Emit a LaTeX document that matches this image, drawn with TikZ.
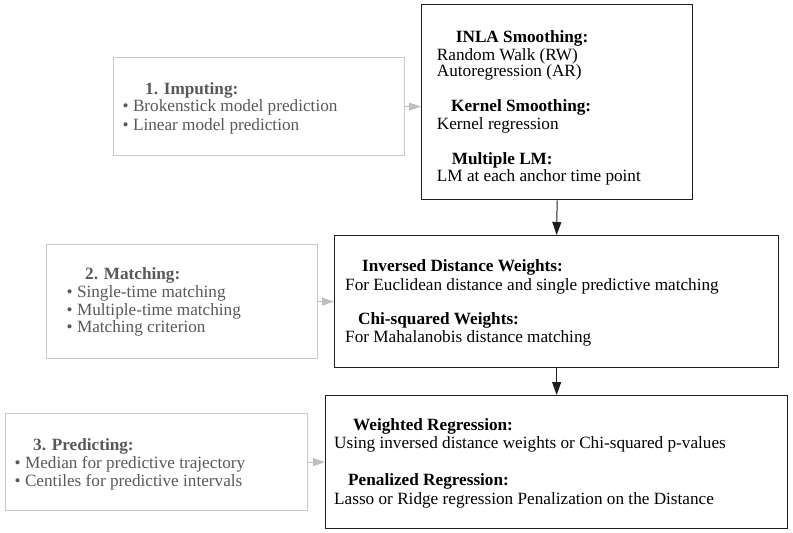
\documentclass[tikz,border=0pt]{standalone}
\usepackage{fontspec}
\setmainfont{Liberation Serif}
\usetikzlibrary{arrows.meta}
\definecolor{boxgray}{RGB}{200,200,200}
\definecolor{txtgray}{RGB}{88,88,88}
\definecolor{arrgray}{RGB}{190,190,190}
\definecolor{edge}{RGB}{30,30,30}
\begin{document}
\begin{tikzpicture}[x=1pt,y=-1pt,
  mainbox/.style={draw=edge, line width=1.3pt, inner sep=0pt, anchor=north west},
  sidebox/.style={draw=boxgray, line width=1.2pt, inner sep=0pt, anchor=north west},
  txt/.style={anchor=base west, inner sep=0pt, font=\fontsize{17.2}{18}\selectfont},
  head/.style={txt, font=\fontsize{17.2}{18}\selectfont\bfseries},
  gtxt/.style={txt, text=txtgray},
  ghead/.style={head, text=txtgray},
  flow/.style={draw=edge, line width=1pt, -{Triangle[length=13pt,width=9pt]}},
  feed/.style={draw=arrgray, line width=1pt, -{Triangle[length=12pt,width=8pt]}}]
\useasboundingbox (0,0) rectangle (793,533);

% method boxes (right column)
\node[mainbox, minimum width=271pt, minimum height=195pt] (smooth) at (421,4) {};
\node[mainbox, minimum width=444pt, minimum height=132pt] (weights) at (334,235) {};
\node[mainbox, minimum width=462pt, minimum height=133pt] (regress) at (325,395) {};

% step boxes (left column)
\node[sidebox, minimum width=291pt, minimum height=98pt] (impute) at (113,57) {};
\node[sidebox, minimum width=271pt, minimum height=114pt] (match) at (46,244) {};
\node[sidebox, minimum width=302pt, minimum height=97pt] (predict) at (5,413) {};

% smoothing box text
\node[head] (s1h) at (455.7,42.7) {INLA Smoothing:};
\node[txt]  (s1a) at (436.7,60.7) {Random Walk (RW)};
\node[txt]  (s1b) at (436.7,76.5) {Autoregression (AR)};
\node[head] (s2h) at (451,111.7) {Kernel Smoothing:};
\node[txt]  (s2a) at (436.7,129.3) {Kernel regression};
\node[head] (s3h) at (451.7,164) {Multiple LM:};
\node[txt]  (s3a) at (436.7,181.7) {LM at each anchor time point};

% weights box text
\node[head] (w1h) at (362,271.7) {Inversed Distance Weights:};
\node[txt]  (w1a) at (345,290.7) {For Euclidean distance and single predictive matching};
\node[head] (w2h) at (358,324.3) {Chi-squared Weights:};
\node[txt]  (w2a) at (345,342.7) {For Mahalanobis distance matching};

% regression box text
\node[head] (r1h) at (353,430) {Weighted Regression:};
\node[txt]  (r1a) at (334,448.3) {Using inversed distance weights or Chi-squared p-values};
\node[head] (r2h) at (348,485.7) {Penalized Regression:};
\node[txt]  (r2a) at (334,504.3) {Lasso or Ridge regression Penalization on the Distance};

% step texts
\node[ghead] (i0) at (145,94) {1. Imputing:};
\node[gtxt]  (i1) at (122.5,111.7) {\textbullet\ Brokenstick model prediction};
\node[gtxt]  (i2) at (122.5,130) {\textbullet\ Linear model prediction};

\node[ghead] (m0) at (85,279) {2. Matching:};
\node[gtxt]  (m1) at (66.5,297.3) {\textbullet\ Single-time matching};
\node[gtxt]  (m2) at (66.5,315) {\textbullet\ Multiple-time matching};
\node[gtxt]  (m3) at (66.5,332.7) {\textbullet\ Matching criterion};

\node[ghead] (p0) at (33,450) {3. Predicting:};
\node[gtxt]  (p1) at (14.5,468.3) {\textbullet\ Median for predictive trajectory};
\node[gtxt]  (p2) at (14.5,486.7) {\textbullet\ Centiles for predictive intervals};

% connectors
\draw[flow] (smooth.south) -- (weights.north);
\draw[flow] (weights.south) -- (regress.north);
\draw[feed] (impute.east) -- (impute.east -| smooth.west);
\draw[feed] (match.east) -- (match.east -| weights.west);
\draw[feed] (predict.east) -- (predict.east -| regress.west);
\end{tikzpicture}
\end{document}
